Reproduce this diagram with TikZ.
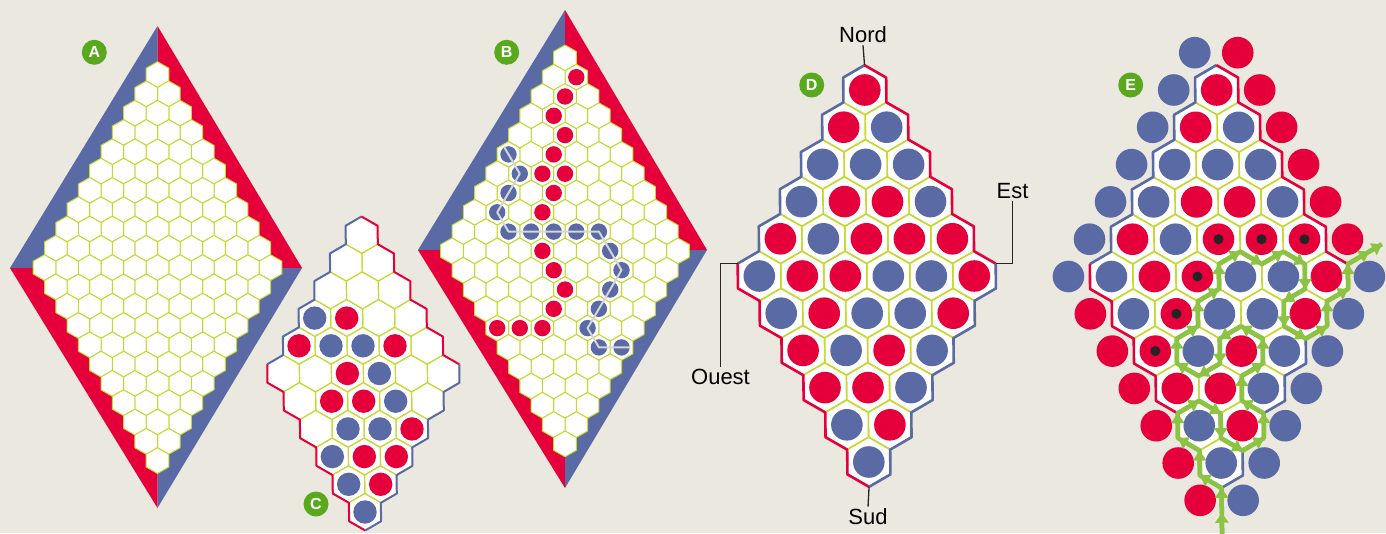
\documentclass[tikz,border=0pt]{standalone}
\usepackage{fontspec}
\setmainfont{Liberation Sans}
\usetikzlibrary{arrows.meta}

\definecolor{paper}{HTML}{EBE8E0}
\definecolor{hexblue}{HTML}{5A6AA5}
\definecolor{hexred}{HTML}{E5003C}
\definecolor{gridline}{HTML}{C5D92F}
\definecolor{walkgreen}{HTML}{8CC342}
\definecolor{taggreen}{HTML}{5AA81E}
\definecolor{linkgrey}{HTML}{D6D6D6}
\definecolor{dotdark}{HTML}{262324}

\tikzset{
  cellbox/.style={fill=white,draw=gridline,line width=#1,line join=round},
  cellbox/.default=1pt,
  rimline/.style={line width=#1,line join=round},
  tag/.style={circle,fill=taggreen,text=white,inner sep=0pt,minimum size=25pt,
    font=\fontsize{16}{16}\selectfont\bfseries},
  compass/.style={font=\fontsize{22}{24}\selectfont,inner sep=2pt},
  pointer/.style={draw=black!85,line width=1.3pt},
  walk/.style={draw=walkgreen,line width=4.5pt,line join=round},
}

% one hex board, cells (c,r) from 0 to #2
\newcommand{\hexboard}[2][1pt]{%
  \foreach \rr in {0,...,#2}{\foreach \cc in {0,...,#2}{
    \draw[cellbox=#1,shift={(\cc,\rr)}] (1/3,-2/3) -- (-1/3,-1/3) -- (-2/3,1/3)
      -- (-1/3,2/3) -- (1/3,1/3) -- (2/3,-1/3) -- cycle;}}}
% coloured sides of a board
\newcommand{\hexrim}[2][2.6pt]{%
  \draw[hexblue,rimline=#1] (-1/3,-1/3) -- (-2/3,1/3)
    \foreach \rr in {1,...,#2}{-- (-1/3,\rr-1/3) -- (-2/3,\rr+1/3)};
  \draw[hexred,rimline=#1] (-2/3,#2+1/3)
    \foreach \cc in {0,...,#2}{-- (\cc-1/3,#2+2/3) -- (\cc+1/3,#2+1/3)};
  \draw[hexred,rimline=#1] (-1/3,-1/3) -- (1/3,-2/3)
    \foreach \cc in {1,...,#2}{-- (\cc-1/3,-1/3) -- (\cc+1/3,-2/3)};
  \draw[hexblue,rimline=#1] (#2+1/3,-2/3)
    \foreach \rr in {0,...,#2}{-- (#2+2/3,\rr-1/3) -- (#2+1/3,\rr+1/3)};}
\newcommand{\stones}[3]{\foreach \cc/\rr in {#3}{\fill[#1] (\cc,\rr) circle[radius=#2];}}

\begin{document}
\begin{tikzpicture}[x=1pt,y=-1pt]
\useasboundingbox (0,0) rectangle (1386,533);
\fill[paper] (0,0) rectangle (1386,533);

% A
\fill[hexblue] (157.5,26) -- (10,268) -- (157.5,268) -- cycle;
\fill[hexred] (157.5,26) -- (302,268) -- (157.5,268) -- cycle;
\fill[hexred] (10,268) -- (157.5,508) -- (157.5,268) -- cycle;
\fill[hexblue] (302,268) -- (157.5,508) -- (157.5,268) -- cycle;
\begin{scope}[shift={(157.5,74.6)},x={(11.3pt,-19.3pt)},y={(-11.3pt,-19.3pt)}]
\hexboard{10}
\end{scope}
\node[tag] (tagA) at (94.3,52.3) {A};

% B
\fill[hexblue] (565,10) -- (418,250) -- (565,250) -- cycle;
\fill[hexred] (565,10) -- (707,250) -- (565,250) -- cycle;
\fill[hexred] (418,250) -- (565,488) -- (565,250) -- cycle;
\fill[hexblue] (707,250) -- (565,488) -- (565,250) -- cycle;
\begin{scope}[shift={(565,57.9)},x={(11.3pt,-19.3pt)},y={(-11.3pt,-19.3pt)}]
\hexboard{10}
\stones{hexred}{8.2pt}{1/0,1/1,1/2,2/2,2/3,2/4,3/3,3/4,3/5,4/6,5/6,6/6,6/7,6/8,5/9,4/10}
\stones{hexblue}{8.2pt}{0/5,1/5,1/6,1/7,2/7,3/6,4/5,5/4,6/3,7/3,8/3,8/4,8/5,8/6,9/6,10/5}
\draw[linkgrey,line width=2pt,line join=round] (-0.4,5) -- (0,5) -- (1,5) -- (1,7) -- (2,7)
  -- (6,3) -- (8,3) -- (8,6) -- (9,6) -- (10.38,4.62);
\end{scope}
\node[tag] (tagB) at (506.7,52.3) {B};

% C
\begin{scope}[shift={(361.7,235)},x={(16.33pt,-27.7pt)},y={(-15.67pt,-27.7pt)}]
\hexboard[1.2pt]{5}
\hexrim[2pt]{5}
\stones{hexblue}{11.7pt}{0/3,1/3,2/2,3/2,4/2,3/4,4/3,3/5,4/5,5/5}
\stones{hexred}{11.7pt}{1/2,0/4,3/1,2/3,2/4,3/3,5/2,4/4,5/3,5/4}
\end{scope}
\node[tag] (tagC) at (316,504) {C};

% D
\begin{scope}[shift={(864.8,90)},x={(21.9pt,-37.2pt)},y={(-21.1pt,-37.2pt)}]
\hexboard[1.6pt]{5}
\hexrim{5}
\stones{hexred}{15.8pt}{0/0,0/1,1/2,2/1,0/4,2/2,3/1,4/0,1/4,2/3,5/0,2/4,5/1,2/5,4/3,3/5,4/4,5/4}
\stones{hexblue}{15.8pt}{1/0,0/2,1/1,2/0,0/3,3/0,1/3,0/5,3/2,4/1,1/5,3/3,4/2,3/4,5/2,5/3,4/5,5/5}
\coordinate (dtop) at (-1/3,-1/3);
\coordinate (dbottom) at (5+1/3,5+1/3);
\coordinate (dleft) at (-2/3,5+1/3);
\coordinate (dright) at (5+1/3,-2/3);
\end{scope}
\node[tag] (tagD) at (811.7,85) {D};
\node[compass] (nord) at (863,35) {Nord};
\node[compass] (sud) at (868,517) {Sud};
\node[compass] (est) at (1012.5,191) {Est};
\node[compass] (ouest) at (720.5,377) {Ouest};
\draw[pointer] (nord.south) -- (dtop);
\draw[pointer] (dbottom) -- (sud.north);
\draw[pointer] (est.south) |- (dright);
\draw[pointer] (ouest.north) |- (dleft);

% E
\begin{scope}[shift={(1216.7,90)},x={(21.95pt,-37.3pt)},y={(-21.05pt,-37.3pt)}]
\stones{hexblue}{15.8pt}{-1/0,-1/1,-1/2,-1/3,-1/4,-1/5,-1/6,6/-1,6/0,6/1,6/2,6/3,6/4,6/5}
\stones{hexred}{15.8pt}{0/-1,1/-1,2/-1,3/-1,4/-1,5/-1,0/6,1/6,2/6,3/6,4/6,5/6}
\hexboard[1.6pt]{5}
\hexrim{5}
\stones{hexred}{15.8pt}{0/0,0/1,1/2,2/1,0/4,2/2,3/1,4/0,1/4,2/3,5/0,2/4,5/1,2/5,4/3,3/5,4/4,5/4}
\stones{hexblue}{15.8pt}{1/0,0/2,1/1,2/0,0/3,3/0,1/3,0/5,3/2,4/1,1/5,3/3,4/2,3/4,5/2,5/3,4/5,5/5}
\stones{dotdark}{5pt}{2/2,3/1,4/0,2/3,2/4,2/5}
% the walk between red and blue, in thirds of a cell
\foreach \cc/\rr [count=\k from 0] in {18/18,17/17,16/16,14/17,13/16,11/17,10/16,11/14,13/13,
    14/14,16/13,17/11,16/10,14/11,13/10,14/8,13/7,11/8,10/10,11/11,10/13,8/14,7/13,8/11,
    7/10,8/8,7/7,8/5,10/4,11/2,13/1,14/2,13/4,14/5,16/4,17/2,16/1,17/-1,16/-2,17/-4,17.6/-5.2}
  {\coordinate (w\k) at (\cc/3,\rr/3);}
\draw[walk] (w0) \foreach \k in {1,...,40}{-- (w\k)};
\foreach \k [evaluate=\k as \kk using int(\k+1)] in {0,...,39}
  {\draw[walk,-{Triangle[length=10pt,width=13pt]}] (w\k) -- (w\kk);}
\end{scope}
\node[tag] (tagE) at (1130.7,85) {E};
\end{tikzpicture}
\end{document}
